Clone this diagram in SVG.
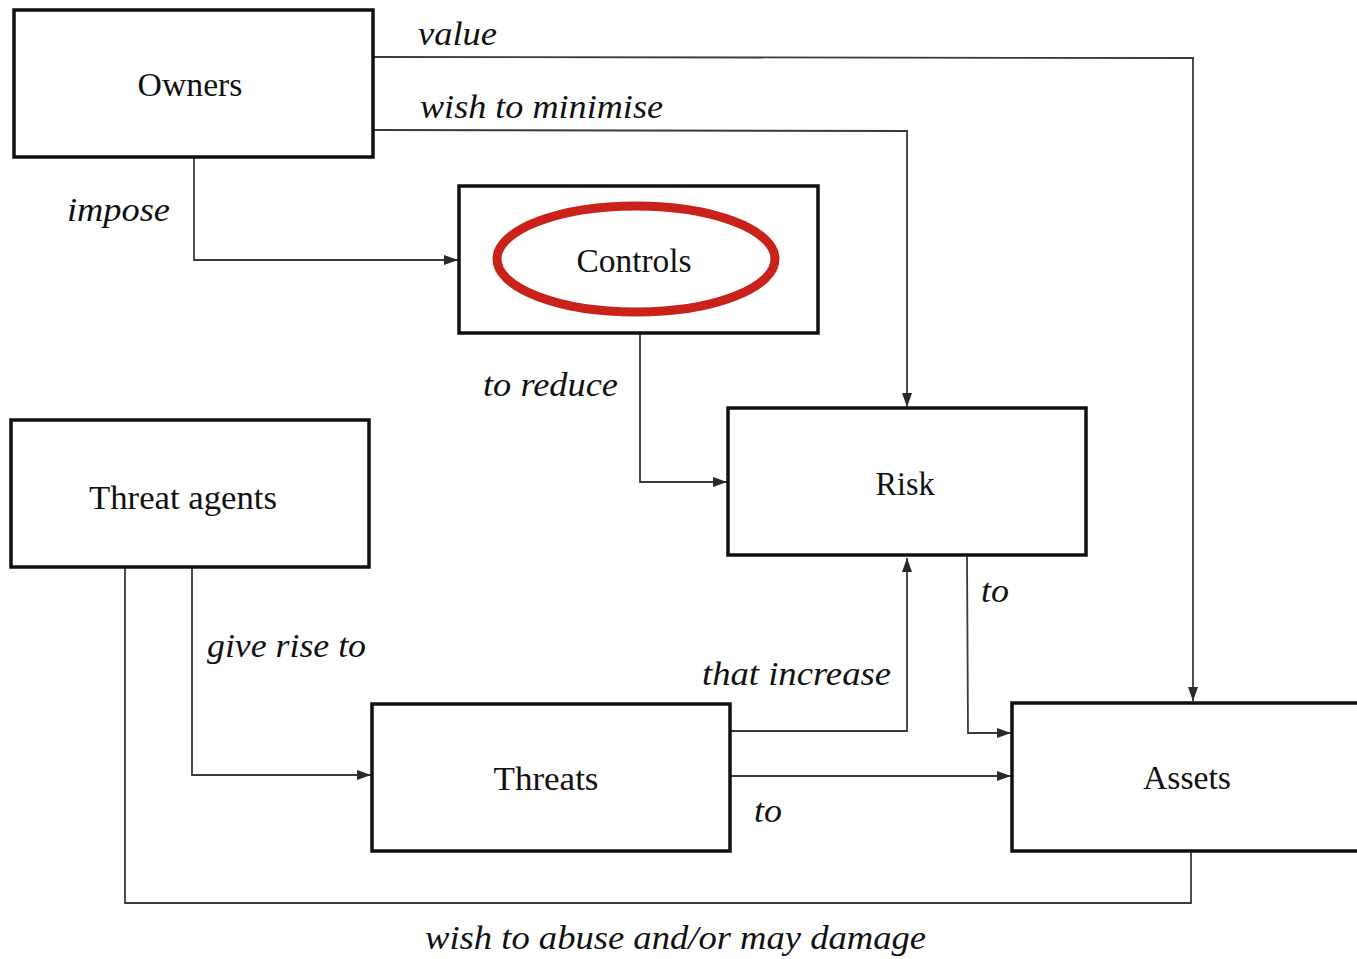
<svg xmlns="http://www.w3.org/2000/svg" width="1357" height="959" viewBox="0 0 1357 959">
<defs>
<marker id="arr" viewBox="0 0 14 10" refX="14" refY="5" markerWidth="14" markerHeight="10" markerUnits="userSpaceOnUse" orient="auto">
<path d="M0,0 L14,5 L0,10 z" fill="#2a2a2a"/>
</marker>
<style>
.box{fill:#fff;stroke:#111;stroke-width:3.5}
.lbl{font-family:"Liberation Serif","DejaVu Serif",serif;font-size:33px;fill:#111;text-anchor:middle}
.it{font-family:"Liberation Serif","DejaVu Serif",serif;font-size:34px;font-style:italic;fill:#111}
.c{fill:none;stroke:#3a3a3a;stroke-width:1.8}
</style>
</defs>
<rect width="1357" height="959" fill="#fff"/>
<g id="connectors">
<polyline class="c" points="373,57 1193,58 1193,701" marker-end="url(#arr)"/>
<polyline class="c" points="373,130 907,131 907,407" marker-end="url(#arr)"/>
<polyline class="c" points="194,157 194,260 458,260" marker-end="url(#arr)"/>
<polyline class="c" points="640,333 640,482 727,482" marker-end="url(#arr)"/>
<polyline class="c" points="192,567 192,775 371,775" marker-end="url(#arr)"/>
<polyline class="c" points="125,567 125,903 1191,903 1191,851"/>
<polyline class="c" points="730,731 907,731 907,558" marker-end="url(#arr)"/>
<polyline class="c" points="730,776 1011,776" marker-end="url(#arr)"/>
<polyline class="c" points="967,555 968,733 1011,733" marker-end="url(#arr)"/>
<text class="it" x="418" y="45" textLength="79" lengthAdjust="spacingAndGlyphs">value</text>
<text class="it" x="420" y="118" textLength="243" lengthAdjust="spacingAndGlyphs">wish to minimise</text>
<text class="it" x="67" y="221" textLength="103" lengthAdjust="spacingAndGlyphs">impose</text>
<text class="it" x="483" y="396" textLength="135" lengthAdjust="spacingAndGlyphs">to reduce</text>
<text class="it" x="981" y="602" textLength="28" lengthAdjust="spacingAndGlyphs">to</text>
<text class="it" x="207" y="657" textLength="159" lengthAdjust="spacingAndGlyphs">give rise to</text>
<text class="it" x="702" y="685" textLength="189" lengthAdjust="spacingAndGlyphs">that increase</text>
<text class="it" x="754" y="822" textLength="28" lengthAdjust="spacingAndGlyphs">to</text>
<text class="it" x="425" y="949" textLength="501" lengthAdjust="spacingAndGlyphs">wish to abuse and/or may damage</text>
</g>
<g id="owners">
<rect class="box" x="14" y="10" width="359" height="147"/>
<text class="lbl" x="190" y="96" textLength="105" lengthAdjust="spacingAndGlyphs">Owners</text>
</g>
<g id="controls">
<rect class="box" x="459" y="186" width="359" height="147"/>
<ellipse cx="636" cy="259" rx="139" ry="53" fill="none" stroke="#c8221a" stroke-width="9"/>
<text class="lbl" x="634" y="272" textLength="115" lengthAdjust="spacingAndGlyphs">Controls</text>
</g>
<g id="risk">
<rect class="box" x="728" y="408" width="358" height="147"/>
<text class="lbl" x="905" y="495" textLength="59" lengthAdjust="spacingAndGlyphs">Risk</text>
</g>
<g id="threat-agents">
<rect class="box" x="11" y="420" width="358" height="147"/>
<text class="lbl" x="183" y="509" textLength="188" lengthAdjust="spacingAndGlyphs">Threat agents</text>
</g>
<g id="threats">
<rect class="box" x="372" y="704" width="358" height="147"/>
<text class="lbl" x="546" y="790" textLength="105" lengthAdjust="spacingAndGlyphs">Threats</text>
</g>
<g id="assets">
<rect class="box" x="1012" y="703" width="370" height="148"/>
<text class="lbl" x="1187" y="789" textLength="88" lengthAdjust="spacingAndGlyphs">Assets</text>
</g>
</svg>
